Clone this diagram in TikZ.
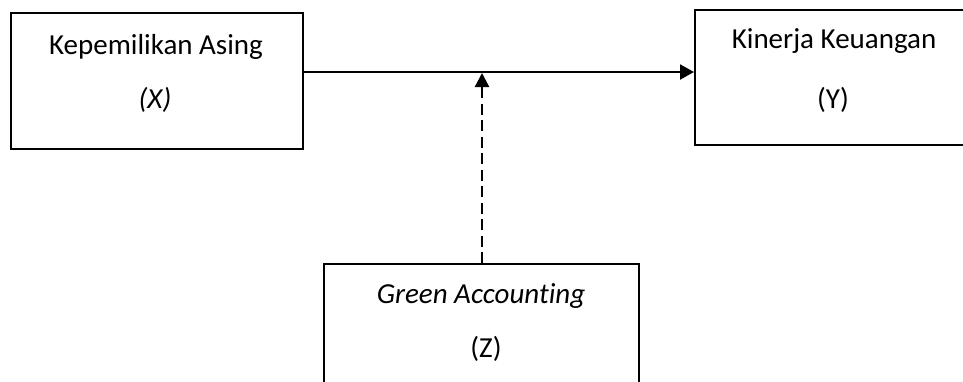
\documentclass[tikz,border=0pt]{standalone}
\usepackage{fontspec}
\setmainfont[Ligatures={NoCommon}]{Carlito}
\usetikzlibrary{arrows.meta,calc}

\tikzset{
  varbox/.style={draw=black, line width=2pt, rectangle, inner sep=0pt, anchor=north west},
  boxtext/.style={anchor=base, inner sep=0pt, font=\fontsize{29}{34}\selectfont},
  link/.style={line width=2pt, -{Triangle[length=14pt,width=15pt]}},
  modlink/.style={line width=2.4pt, dash pattern=on 11pt off 5.5pt, -{Triangle[length=14pt,width=14pt]}}
}

\begin{document}
\begin{tikzpicture}[x=1pt, y=-1pt]
  \clip (0,0) rectangle (963,381);
  \fill[white] (0,0) rectangle (963,381);

  % variable boxes
  \node[varbox, minimum width=292pt, minimum height=136pt] (X) at (10,12) {};
  \node[varbox, minimum width=278pt, minimum height=135pt] (Y) at (694,9) {};
  \node[varbox, minimum width=315pt, minimum height=140pt] (Z) at (323,263) {};

  % box labels
  \node[boxtext] (xname) at (156,54) {Kepemilikan Asing};
  \node[boxtext] (xsym)  at (155,108) {\itshape (X)};
  \node[boxtext] (yname) at (834,48) {Kinerja Keuangan};
  \node[boxtext] (ysym)  at (833,108) {(Y)};
  \node[boxtext] (zname) at (481,303) {\itshape Green Accounting};
  \node[boxtext] (zsym)  at (486,357) {(Z)};

  % direct effect X -> Y
  \coordinate (xout) at (X.east |- 0,72);
  \coordinate (yin)  at (Y.west |- 0,72);
  \draw[link] (xout) -- (yin);

  % moderating effect of Z on the X -> Y path
  \coordinate (zout) at (482,263);
  \coordinate (mod)  at (482,73);
  \draw[modlink] (zout) -- (mod);
\end{tikzpicture}
\end{document}
